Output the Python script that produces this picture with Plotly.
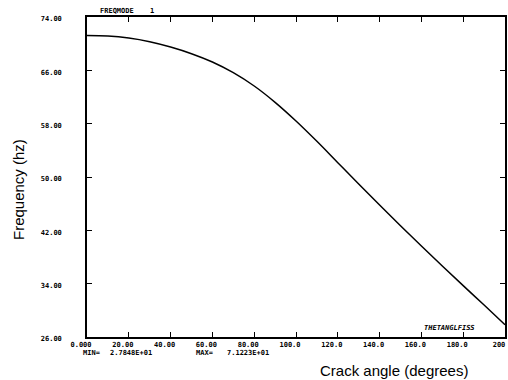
import plotly.graph_objects as go

# Data
crack_angle = [0, 10, 20, 30, 40, 50, 60, 70, 80, 90, 100, 110, 120, 130, 140, 150, 160, 170, 180, 190, 200]
frequency = [71.22, 71.15, 70.85, 70.30, 69.50, 68.50, 67.25, 65.65, 63.65, 61.20, 58.40,
             55.35, 52.15, 48.95, 45.80, 42.70, 39.65, 36.65, 33.70, 30.80, 27.85]

x_tickvals = [0, 20, 40, 60, 80, 100, 120, 140, 160, 180, 200]
x_ticktext = ["0.000", "20.00", "40.00", "60.00", "80.00", "100.0", "120.0", "140.0", "160.0", "180.0", "200"]
y_tickvals = [26, 34, 42, 50, 58, 66, 74]
y_ticktext = ["26.00", "34.00", "42.00", "50.00", "58.00", "66.00", "74.00"]

W, H = 508, 380
L, R, T, B = 87, 3, 17, 43
PW, PH = W - L - R, H - T - B


def px(x):
    return (x - L) / PW


def py(y):
    return (H - B - y) / PH


tick_font = dict(family="DejaVu Sans Mono", size=7, color="black", weight="bold")
title_font = dict(family="Liberation Sans", size=15, color="black")

fig = go.Figure()
fig.add_trace(go.Scatter(x=crack_angle, y=frequency, mode="lines",
                         line=dict(color="black", width=1.5, shape="spline", smoothing=1.0),
                         showlegend=False, hoverinfo="skip"))
# invisible copy so the tick-only overlay axes are drawn
fig.add_trace(go.Scatter(x=crack_angle, y=frequency, mode="lines", xaxis="x2", yaxis="y2",
                         line=dict(color="rgba(0,0,0,0)", width=0),
                         showlegend=False, hoverinfo="skip"))

fig.update_layout(
    width=W, height=H,
    margin=dict(l=L, r=R, t=T, b=B, autoexpand=False),
    paper_bgcolor="white", plot_bgcolor="white",
    # label axes
    xaxis=dict(range=[0, 200], tickmode="array", tickvals=x_tickvals, ticktext=x_ticktext,
               automargin=False, showgrid=False, zeroline=False, showline=True,
               linecolor="black", linewidth=1.5, mirror=True, ticks="",
               tickfont=tick_font, ticklabelshift=-6, ticklabelstandoff=0),
    yaxis=dict(range=[26, 74], tickmode="array", tickvals=y_tickvals, ticktext=y_ticktext,
               automargin=False, showgrid=False, zeroline=False, showline=True,
               linecolor="black", linewidth=1.5, mirror=True, ticks="",
               tickfont=tick_font, ticklabelstandoff=22, ticklabelshift=2),
    # tick-only overlay axes
    xaxis2=dict(range=[0, 200], overlaying="x", anchor="y2", side="bottom",
                tickmode="array", tickvals=x_tickvals, showticklabels=False,
                automargin=False, showgrid=False, zeroline=False, showline=False,
                mirror="allticks", ticks="inside", ticklen=5, tickwidth=1.3,
                tickcolor="black"),
    yaxis2=dict(range=[26, 74], overlaying="y", anchor="x2", side="left",
                tickmode="array", tickvals=y_tickvals, showticklabels=False,
                automargin=False, showgrid=False, zeroline=False, showline=False,
                mirror="allticks", ticks="inside", ticklen=5, tickwidth=1.3,
                tickcolor="black"),
)

ann = []
ann.append(dict(text="Frequency (hz)", x=px(18), y=py(190), xref="paper", yref="paper",
                textangle=-90, showarrow=False, font=title_font,
                xanchor="center", yanchor="middle"))
ann.append(dict(text="Crack angle (degrees)", x=px(394), y=py(370), xref="paper", yref="paper",
                showarrow=False, font=title_font, xanchor="center", yanchor="middle"))
ann.append(dict(text="FREQMODE", x=px(98), y=py(11), xref="paper", yref="paper",
                showarrow=False, font=tick_font, xanchor="left", yanchor="middle"))
ann.append(dict(text="1", x=px(152), y=py(11), xref="paper", yref="paper",
                showarrow=False, font=tick_font, xanchor="center", yanchor="middle"))
ann.append(dict(text="<i>THETANGLFISS</i>", x=px(422), y=py(334), xref="paper", yref="paper",
                showarrow=False, font=tick_font, xanchor="left", yanchor="bottom"))
ann.append(dict(text="MIN=", x=px(81), y=py(353), xref="paper", yref="paper",
                showarrow=False, font=tick_font, xanchor="left", yanchor="middle"))
ann.append(dict(text="2.7848E+01", x=px(108), y=py(353), xref="paper", yref="paper",
                showarrow=False, font=tick_font, xanchor="left", yanchor="middle"))
ann.append(dict(text="MAX=", x=px(194), y=py(353), xref="paper", yref="paper",
                showarrow=False, font=tick_font, xanchor="left", yanchor="middle"))
ann.append(dict(text="7.1223E+01", x=px(225), y=py(353), xref="paper", yref="paper",
                showarrow=False, font=tick_font, xanchor="left", yanchor="middle"))
fig.update_layout(annotations=ann)

fig.write_html("out.html", config={"displayModeBar": False},
               post_script="document.body.style.margin='0';document.body.style.padding='0';")
